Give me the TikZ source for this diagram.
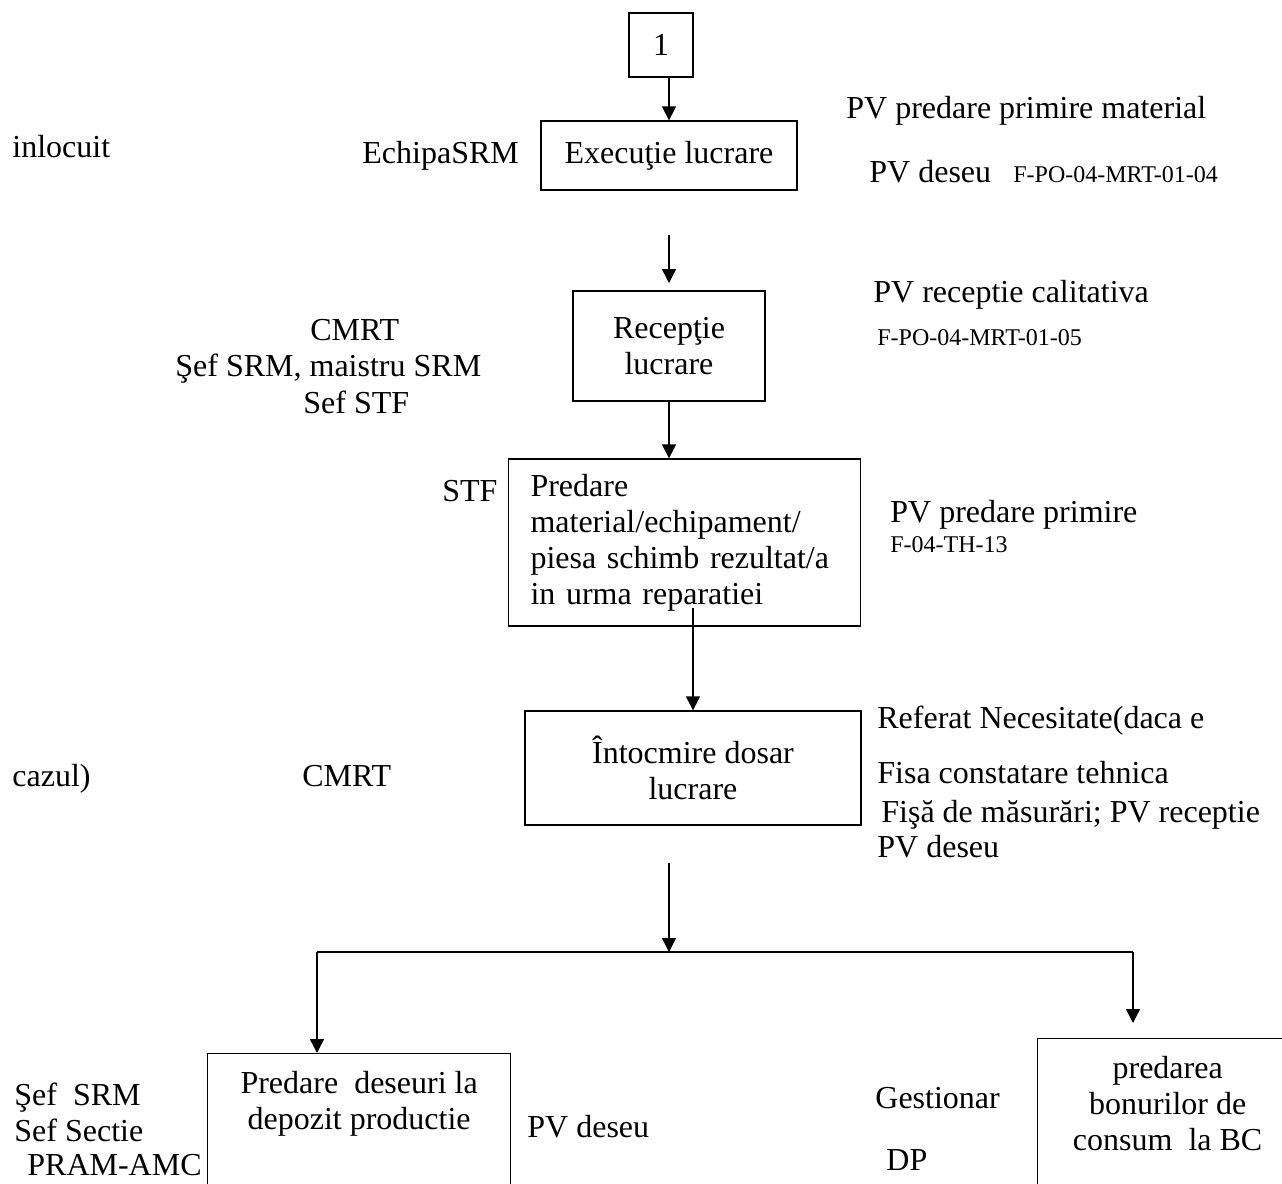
\documentclass[tikz,border=0pt]{standalone}
\usepackage{fontspec}
\setmainfont{Liberation Serif}
\usetikzlibrary{arrows.meta,positioning}

\begin{document}
\begin{tikzpicture}[x=0.5pt, y=-0.5pt, >={Triangle[length=7pt,width=7pt]},
  box/.style={draw, line width=0.65pt, inner sep=0pt, align=center, font=\fontsize{16}{18}\selectfont},
  txt/.style={inner sep=0pt, anchor=base west, font=\fontsize{16}{18}\selectfont},
  code/.style={inner sep=0pt, anchor=base west, font=\fontsize{12}{14}\selectfont},
  arr/.style={->, line width=0.7pt}]
  \useasboundingbox (0,0) rectangle (1282,1184);
  \clip (0,0) rectangle (1282,1184);

  % process boxes
  \node[box, minimum width=32pt, minimum height=32pt] (one) at (661,45) {1};
  \node[box, minimum width=128pt, minimum height=34.5pt] (exec) at (669,155.5) {Execuţie lucrare};
  \node[box, minimum width=96pt, minimum height=55pt] (recep) at (669,346) {Recepţie\\lucrare};
  \node[box, align=left, text width=154pt, inner xsep=11pt, minimum height=83.5pt] (predare) at (684.5,542.5)
    {Predare\\material/echipament/\\piesa schimb rezultat/a\\in urma reparatiei};
  \node[box, minimum width=168pt, minimum height=57pt] (intocmire) at (693,768) {Întocmire dosar\\lucrare};
  \node[box, minimum width=151.5pt, minimum height=100pt, anchor=north west] (deseuri) at (207,1053) {};
  \node[box, minimum width=130pt, minimum height=106pt, anchor=north west] (bonuri) at (1037,1038) {};
  \node[txt, align=center, below=9pt of deseuri.north] (deseuritxt) {Predare~ deseuri la\\depozit productie};
  \node[txt, align=center, below=9pt of bonuri.north] (bonuritxt) {predarea\\bonurilor de\\consum~ la BC};

  % connectors
  \coordinate (r0) at (669,235);
  \coordinate (r1) at (669,283);
  \coordinate (p0) at (693,608);
  \coordinate (b0) at (669,863);
  \coordinate (bm) at (669,952);
  \coordinate (bl) at (317,952);
  \coordinate (br) at (1133,952);
  \coordinate (brend) at (1133,1023);
  \draw[arr] (one.south -| exec.north) -- (exec.north);
  \draw[arr] (r0) -- (r1);
  \draw[arr] (recep.south) -- (recep.south |- predare.north);
  \draw[arr] (p0) -- (intocmire.north);
  \draw[arr] (b0) -- (bm);
  \draw[line width=0.7pt] (bl) -- (br);
  \draw[arr] (bl) -- (bl |- deseuri.north);
  \draw[arr] (br) -- (brend);

  % responsible persons
  \node[txt] (inlocuit) at (12,157) {inlocuit};
  \node[txt] (echipa) at (362,163) {EchipaSRM};
  \node[txt] (cmrt1) at (310,340) {CMRT};
  \node[txt] (sefsrm) at (175,376) {Şef SRM, maistru SRM};
  \node[txt] (sefstf) at (303,413) {Sef STF};
  \node[txt] (stf) at (442,501) {STF};
  \node[txt] (cazul) at (12,786) {cazul)};
  \node[txt] (cmrt2) at (302,786) {CMRT};
  \node[txt] (sefsrm2) at (14,1105) {Şef~ SRM};
  \node[txt] (sefsectie) at (14,1141) {Sef Sectie};
  \node[txt] (pram) at (27,1175) {PRAM-AMC};
  \node[txt] (gestionar) at (875,1108) {Gestionar};
  \node[txt] (dp) at (886,1170) {DP};

  % documents
  \node[txt] (pvmat) at (846,118) {PV predare primire material};
  \node[txt] (pvdeseu1) at (869,182) {PV deseu};
  \node[code] (f04) at (1013,182) {F-PO-04-MRT-01-04};
  \node[txt] (pvrec) at (873,302) {PV receptie calitativa};
  \node[code] (f05) at (877,345) {F-PO-04-MRT-01-05};
  \node[txt] (pvpred) at (890,522) {PV predare primire};
  \node[code] (fth) at (890,552) {F-04-TH-13};
  \node[txt] (referat) at (877,728) {Referat Necesitate(daca e};
  \node[txt] (fisa) at (877,783) {Fisa constatare tehnica};
  \node[txt] (masurari) at (881,822) {Fişă de măsurări; PV receptie};
  \node[txt] (pvdeseu2) at (877,857) {PV deseu};
  \node[txt] (pvdeseu3) at (527,1137) {PV deseu};
\end{tikzpicture}
\end{document}
